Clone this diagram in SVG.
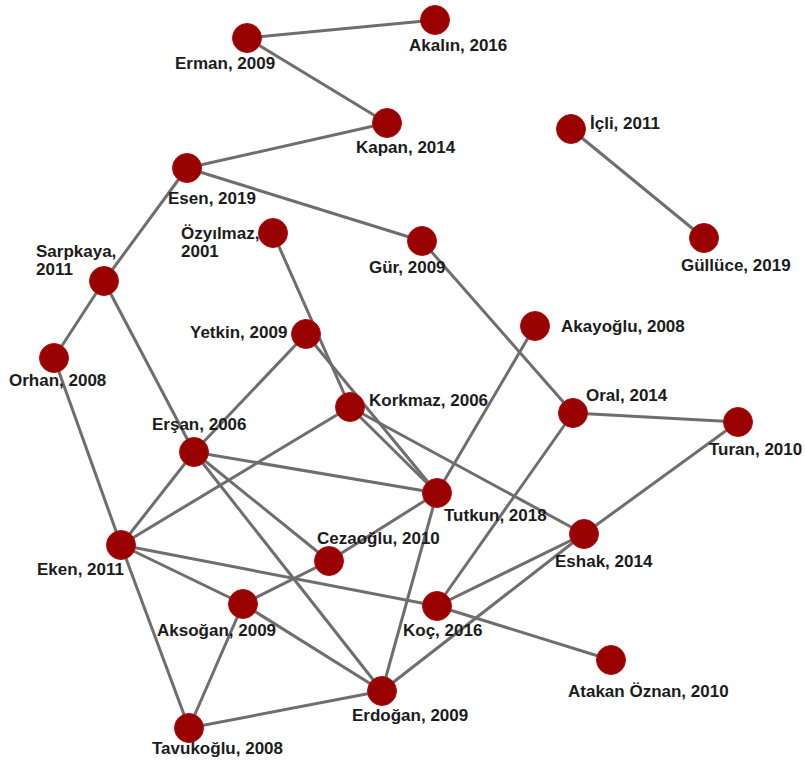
<svg xmlns="http://www.w3.org/2000/svg" width="805" height="763" viewBox="0 0 805 763">
<style>
.e{stroke:#6e6e6e;stroke-width:3;fill:none}
.n{fill:#990000;stroke:#b01010;stroke-width:1}
text{font-family:"Liberation Sans",Arial,sans-serif;font-weight:bold;font-size:17px;fill:#1c1c1c}
</style>
<rect width="805" height="763" fill="#ffffff"/>
<g id="edges">
<line class="e" x1="247" y1="38" x2="435" y2="20"/>
<line class="e" x1="247" y1="38" x2="387" y2="123"/>
<line class="e" x1="387" y1="123" x2="187" y2="168"/>
<line class="e" x1="187" y1="168" x2="422" y2="241"/>
<line class="e" x1="187" y1="168" x2="104" y2="281"/>
<line class="e" x1="571" y1="129" x2="704" y2="238"/>
<line class="e" x1="104" y1="281" x2="54" y2="358"/>
<line class="e" x1="104" y1="281" x2="194" y2="452"/>
<line class="e" x1="54" y1="358" x2="121" y2="545"/>
<line class="e" x1="273" y1="233" x2="350" y2="407"/>
<line class="e" x1="306" y1="334" x2="437" y2="493"/>
<line class="e" x1="306" y1="334" x2="194" y2="452"/>
<line class="e" x1="350" y1="407" x2="437" y2="493"/>
<line class="e" x1="350" y1="407" x2="584" y2="534"/>
<line class="e" x1="350" y1="407" x2="121" y2="545"/>
<line class="e" x1="194" y1="452" x2="437" y2="493"/>
<line class="e" x1="194" y1="452" x2="121" y2="545"/>
<line class="e" x1="194" y1="452" x2="329" y2="561"/>
<line class="e" x1="194" y1="452" x2="382" y2="691"/>
<line class="e" x1="121" y1="545" x2="243" y2="604"/>
<line class="e" x1="121" y1="545" x2="437" y2="606"/>
<line class="e" x1="121" y1="545" x2="189" y2="728"/>
<line class="e" x1="329" y1="561" x2="437" y2="493"/>
<line class="e" x1="329" y1="561" x2="243" y2="604"/>
<line class="e" x1="243" y1="604" x2="382" y2="691"/>
<line class="e" x1="243" y1="604" x2="189" y2="728"/>
<line class="e" x1="189" y1="728" x2="382" y2="691"/>
<line class="e" x1="382" y1="691" x2="437" y2="493"/>
<line class="e" x1="382" y1="691" x2="584" y2="534"/>
<line class="e" x1="437" y1="606" x2="573" y2="413"/>
<line class="e" x1="437" y1="606" x2="584" y2="534"/>
<line class="e" x1="437" y1="606" x2="611" y2="660"/>
<line class="e" x1="437" y1="493" x2="535" y2="326"/>
<line class="e" x1="422" y1="241" x2="573" y2="413"/>
<line class="e" x1="573" y1="413" x2="738" y2="422"/>
<line class="e" x1="738" y1="422" x2="584" y2="534"/>
</g>
<g id="akalin"><text x="409" y="51">Akalın, 2016</text><circle class="n" cx="435" cy="20" r="14.5"/></g>
<g id="erman"><text x="175" y="69">Erman, 2009</text><circle class="n" cx="247" cy="38" r="14.5"/></g>
<g id="kapan"><text x="356" y="153">Kapan, 2014</text><circle class="n" cx="387" cy="123" r="14.5"/></g>
<g id="icli"><text x="590" y="129">İçli, 2011</text><circle class="n" cx="571" cy="129" r="14.5"/></g>
<g id="esen"><text x="168" y="204">Esen, 2019</text><circle class="n" cx="187" cy="168" r="14.5"/></g>
<g id="ozyilmaz"><text x="181" y="239">Özyılmaz,</text><text x="181" y="257">2001</text><circle class="n" cx="273" cy="233" r="14.5"/></g>
<g id="gur"><text x="369" y="273">Gür, 2009</text><circle class="n" cx="422" cy="241" r="14.5"/></g>
<g id="gulluce"><text x="681" y="271">Güllüce, 2019</text><circle class="n" cx="704" cy="238" r="14.5"/></g>
<g id="sarpkaya"><text x="36" y="257">Sarpkaya,</text><text x="36" y="275">2011</text><circle class="n" cx="104" cy="281" r="14.5"/></g>
<g id="yetkin"><text x="190" y="338">Yetkin, 2009</text><circle class="n" cx="306" cy="334" r="14.5"/></g>
<g id="akayoglu"><text x="561" y="332">Akayoğlu, 2008</text><circle class="n" cx="535" cy="326" r="14.5"/></g>
<g id="orhan"><text x="9" y="386">Orhan, 2008</text><circle class="n" cx="54" cy="358" r="14.5"/></g>
<g id="korkmaz"><text x="369" y="406">Korkmaz, 2006</text><circle class="n" cx="350" cy="407" r="14.5"/></g>
<g id="oral"><text x="586" y="401">Oral, 2014</text><circle class="n" cx="573" cy="413" r="14.5"/></g>
<g id="turan"><text x="709" y="455">Turan, 2010</text><circle class="n" cx="738" cy="422" r="14.5"/></g>
<g id="ersan"><text x="152" y="430">Erşan, 2006</text><circle class="n" cx="194" cy="452" r="14.5"/></g>
<g id="tutkun"><text x="444" y="521">Tutkun, 2018</text><circle class="n" cx="437" cy="493" r="14.5"/></g>
<g id="eshak"><text x="555" y="567">Eshak, 2014</text><circle class="n" cx="584" cy="534" r="14.5"/></g>
<g id="eken"><text x="37" y="575">Eken, 2011</text><circle class="n" cx="121" cy="545" r="14.5"/></g>
<g id="cezaoglu"><text x="317" y="544">Cezaoğlu, 2010</text><circle class="n" cx="329" cy="561" r="14.5"/></g>
<g id="aksogan"><text x="157" y="636">Aksoğan, 2009</text><circle class="n" cx="243" cy="604" r="14.5"/></g>
<g id="koc"><text x="403" y="636">Koç, 2016</text><circle class="n" cx="437" cy="606" r="14.5"/></g>
<g id="atakan"><text x="568" y="697">Atakan Öznan, 2010</text><circle class="n" cx="611" cy="660" r="14.5"/></g>
<g id="erdogan"><text x="352" y="721">Erdoğan, 2009</text><circle class="n" cx="382" cy="691" r="14.5"/></g>
<g id="tavukoglu"><text x="152" y="754">Tavukoğlu, 2008</text><circle class="n" cx="189" cy="728" r="14.5"/></g>
</svg>
